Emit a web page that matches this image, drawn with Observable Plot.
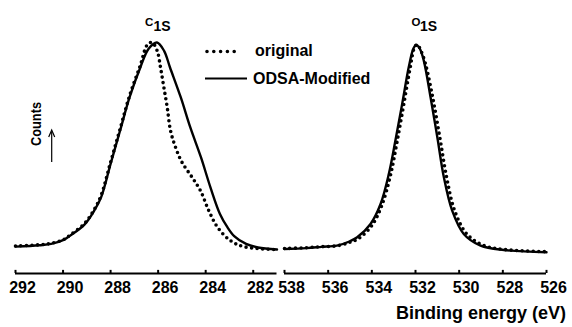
<!DOCTYPE html>
<html>
<head>
<meta charset="utf-8">
<script src="https://cdn.jsdelivr.net/npm/d3@7"></script>
<script src="https://cdn.jsdelivr.net/npm/@observablehq/plot@0.6"></script>
<style>
  html, body { margin: 0; padding: 0; background: #fff; }
  #wrap { position: relative; width: 572px; height: 327px; font-family: "Liberation Sans", Arial, sans-serif; }
  #wrap > svg { position: absolute; left: 0; top: 0; }
  #wrap svg text { font-weight: bold !important; }
</style>
</head>
<body>
<div id="wrap"></div>
<script>
// ---- Data (binding energy in eV, counts in arbitrary units) ----
const c1sEnergy   = [292.0, 291.0, 290.5, 290.0, 289.7, 289.1, 288.7, 288.4, 288.0, 287.6, 287.2, 286.75, 286.4, 286.05, 285.75, 285.5, 285.05, 284.65, 284.2, 283.8, 283.4, 283.1, 282.8, 282.3, 281.8, 281.0];
const c1sModified = [1.9, 2.6, 3.2, 5.0, 7.2, 12.5, 19, 25.6, 41.7, 57.7, 73.7, 88, 97, 100, 96, 88, 73.7, 59.3, 44.9, 30.4, 17.6, 11.5, 7, 3.2, 1.5, 0.5];

const c1sOrigEnergy = [292.0, 291.0, 290.5, 290.0, 289.7, 289.1, 288.7, 288.4, 288.0, 287.6, 287.2, 286.75, 286.45, 286.25, 286.04, 285.9, 285.76, 285.62, 285.48, 285.27, 285.0, 284.57, 284.22, 283.87, 283.5, 282.96, 282.4, 281.0];
const c1sOriginal   = [2.2, 2.8, 3.5, 5.2, 7.5, 13, 19.5, 26.5, 42.5, 58.5, 74.5, 89, 99, 100, 96, 88, 78.5, 69, 57.7, 49.7, 42.5, 35.2, 28.8, 19.2, 11.2, 4.8, 1.9, 0.5];

const o1sEnergy   = [538.0, 537.0, 536.3, 535.6, 535.0, 534.67, 534.06, 533.6, 533.22, 532.92, 532.61, 532.31, 532.1, 531.97, 531.8, 531.62, 531.31, 531.0, 530.7, 530.32, 529.79, 529.02, 527.95, 526.0];
const o1sModified = [0.8, 1.2, 1.8, 2.4, 4.5, 6.4, 12.8, 22.4, 36.9, 52.9, 70.5, 88.1, 97, 99, 97, 91.3, 73.7, 54.5, 35.2, 19.2, 8, 2.4, 0.3, -0.8];

const o1sOrigEnergy = [538.0, 537.0, 536.3, 535.6, 535.0, 534.6, 534.0, 533.55, 533.15, 532.85, 532.55, 532.25, 532.05, 531.92, 531.75, 531.55, 531.2, 530.88, 530.57, 530.2, 529.65, 528.9, 527.9, 526.0];
const o1sOriginal   = [1.0, 1.4, 1.9, 2.3, 4.0, 5.8, 12, 21.5, 36, 52, 69.5, 87.5, 97.5, 99, 96, 90, 73, 54, 35, 19, 8, 2.6, 0.5, -0.5];

const ticksC = [292, 290, 288, 286, 284, 282];
const ticksO = [538, 536, 534, 532, 530, 528, 526];
const domainC = [292, 281];
const domainO = [538, 526];

const seriesNames = ["original", "ODSA-Modified"];
const peakLabels = [["C", "1S"], ["O", "1S"]];
const xTitle = "Binding energy (eV)";
const yTitle = "Counts";

// ---- Build tables ----
const zip = (xs, ys) => xs.map((x, i) => ({x, y: ys[i]}));
const W = 572, H = 327;
const font = '"Liberation Sans", Arial, sans-serif';
const yMin = -11;

function panel({modified, original, domain, ticks, marginLeft, marginRight}) {
  const p = Plot.plot({
    width: W, height: H,
    marginLeft, marginRight, marginTop: 42, marginBottom: 54,
    style: {fontFamily: font, fontSize: "16px", fontWeight: "bold", background: "transparent", color: "#000"},
    x: {domain, axis: null},
    y: {domain: [yMin, 100], axis: null},
    marks: [
      Plot.ruleY([yMin], {stroke: "#000", strokeWidth: 2.2}),
      Plot.ruleX(ticks, {x: d => d, y1: yMin, y2: yMin + 1.5, stroke: "#000", strokeWidth: 2}),
      Plot.axisX({ticks, tickSize: 0, tickPadding: 8, dx: 7, tickFormat: d => String(d), fontSize: 16, fontWeight: "bold", label: null}),
      Plot.line(original, {x: "x", y: "y", curve: "catmull-rom", stroke: "#000", strokeWidth: 3.6, strokeDasharray: "0 5.5", strokeLinecap: "round"}),
      Plot.line(modified, {x: "x", y: "y", curve: "catmull-rom", stroke: "#000", strokeWidth: 2.4})
    ]
  });
  d3.select(p).selectAll("text").attr("font-size", 16).attr("font-weight", "bold").style("font-size", "16px");
  return p;
}

const wrap = document.getElementById("wrap");
wrap.appendChild(panel({
  modified: zip(c1sEnergy, c1sModified), original: zip(c1sOrigEnergy, c1sOriginal),
  domain: domainC, ticks: ticksC, marginLeft: 15, marginRight: W - 276.5
}));
wrap.appendChild(panel({
  modified: zip(o1sEnergy, o1sModified), original: zip(o1sOrigEnergy, o1sOriginal),
  domain: domainO, ticks: ticksO, marginLeft: 284, marginRight: W - 546
}));

// ---- Annotations: legend, peak labels, axis titles ----
const svg = d3.select(wrap).append("svg").attr("width", W).attr("height", H)
  .style("font-family", font).style("pointer-events", "none");

// legend
svg.append("line").attr("x1", 207).attr("x2", 241).attr("y1", 51.5).attr("y2", 51.5)
  .attr("stroke", "#000").attr("stroke-width", 3.6).attr("stroke-linecap", "round").attr("stroke-dasharray", "0 6.8");
svg.append("text").attr("x", 255).attr("y", 50).attr("dy", "0.35em")
  .attr("font-size", 16).attr("font-weight", "bold").text(seriesNames[0]);
svg.append("line").attr("x1", 205).attr("x2", 247).attr("y1", 78.5).attr("y2", 78.5)
  .attr("stroke", "#000").attr("stroke-width", 2);
svg.append("text").attr("x", 253).attr("y", 78).attr("dy", "0.35em")
  .attr("font-size", 16).attr("font-weight", "bold").text(seriesNames[1]);

// peak labels
function peak(x, lab) {
  svg.append("text").attr("x", x).attr("y", 26).attr("font-size", 11.5).attr("font-weight", "bold").text(lab[0]);
  svg.append("text").attr("x", x + 8.5).attr("y", 31).attr("font-size", 14).attr("font-weight", "bold").text(lab[1]);
}
peak(145, peakLabels[0]);
peak(411.5, peakLabels[1]);

// x title
svg.append("text").attr("x", 566).attr("y", 319).attr("text-anchor", "end")
  .attr("font-size", 18).attr("font-weight", "bold").text(xTitle);

// y title + arrow
svg.append("text").attr("transform", "translate(40.5,124) rotate(-90)").attr("text-anchor", "middle")
  .attr("font-size", 15).attr("font-weight", "bold")
  .attr("textLength", 44).attr("lengthAdjust", "spacingAndGlyphs").text(yTitle);
svg.append("line").attr("x1", 51.7).attr("x2", 51.7).attr("y1", 162).attr("y2", 132)
  .attr("stroke", "#000").attr("stroke-width", 1.2);
svg.append("path").attr("d", "M48.7,137 L51.7,130 L54.7,137").attr("fill", "none")
  .attr("stroke", "#000").attr("stroke-width", 1.2);
</script>
</body>
</html>
